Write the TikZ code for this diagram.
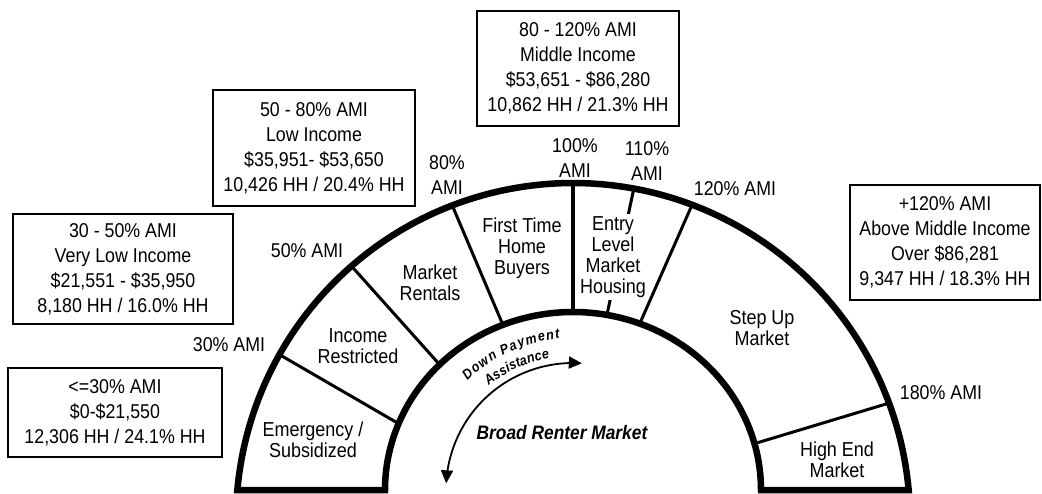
\documentclass[tikz,border=0pt]{standalone}
\usepackage{fontspec}
\setmainfont{Liberation Sans}[FakeStretch=0.89]
\usetikzlibrary{arrows.meta}
\begin{document}
\begin{tikzpicture}[x=1pt,y=-1pt,
  box/.style={draw,line width=1.3pt,inner sep=0pt,align=center,font=\fontsize{20}{25}\selectfont},
  lbl/.style={inner sep=0pt,align=center,font=\fontsize{20}{25}\selectfont},
  reg/.style={inner sep=1pt,align=center,font=\fontsize{20.2}{21}\selectfont},
  ring/.style={line width=6.5pt,line join=miter},
  divider/.style={line width=3pt},
  dpa/.style={inner sep=0pt,anchor=base,font=\fontsize{14}{14}\selectfont\bfseries\itshape},
]
\useasboundingbox (0,0) rectangle (1042,494);

% ring
\draw[ring] plot[domain=174.9:5.1,samples=150] ({573+337*cos(\x)},{520-337*sin(\x)})
  -- plot[domain=0:180,samples=150] ({573+188*cos(\x)},{490-178*sin(\x)}) -- cycle;

% divider end points
\foreach \n/\a/\t in {1/150.6/158.1, 2/131.1/135.2, 3/111.0/111.9, 4/90/90, 5/79.6/79.6, 6/69.3/69.2, 7/20.3/15.1}{
  \coordinate (o\n) at ({573+337*cos(\a)},{520-337*sin(\a)});
  \coordinate (i\n) at ({573+188*cos(\t)},{490-178*sin(\t)});
}
\draw[divider] (o1) -- (i1);
\draw[divider] (o2) -- (i2);
\draw[divider] (o3) -- (i3);
\draw[line width=4.5pt] (o4) -- (i4);
\draw[divider] (o5) -- (i5);
\draw[divider] (o6) -- (i6);
\draw[divider] (o7) -- (i7);

% region labels
\node[reg] (emerg) at (313,440) {Emergency /\\Subsidized};
\node[reg] (incr) at (358,346) {Income\\Restricted};
\node[reg] (mrent) at (430,283) {Market\\Rentals};
\node[reg] (fthb) at (522,248) {First Time\\Home\\Buyers};
\node[reg,fill=white,inner sep=2pt] (entry) at (613,257) {Entry\\Level\\Market\\Housing};
\node[reg] (stepup) at (762,328) {Step Up\\Market};
\node[reg] (highend) at (837,460) {High End\\Market};

% AMI labels
\node[lbl] (a30) at (229,345) {30\% AMI};
\node[lbl] (a50) at (307,251) {50\% AMI};
\node[lbl] (a80) at (447,175.5) {80\%\\AMI};
\node[lbl] (a100) at (575,158) {100\%\\AMI};
\node[lbl] (a110) at (647,161.5) {110\%\\AMI};
\node[lbl] (a120) at (735,189) {120\% AMI};
\node[lbl] (a180) at (941,393) {180\% AMI};

% boxes
\node[box,minimum width=214pt,minimum height=89pt] (bA) at (115,412.5)
  {<=30\% AMI\\\$0-\$21,550\\12,306 HH / 24.1\% HH};
\node[box,minimum width=220pt,minimum height=110pt] (bB) at (123,269)
  {30 - 50\% AMI\\Very Low Income\\\$21,551 - \$35,950\\8,180 HH / 16.0\% HH};
\node[box,minimum width=202pt,minimum height=116pt] (bC) at (314,148)
  {50 - 80\% AMI\\Low Income\\\$35,951- \$53,650\\10,426 HH / 20.4\% HH};
\node[box,minimum width=202pt,minimum height=115pt] (bD) at (578,68.5)
  {80 - 120\% AMI\\Middle Income\\\$53,651 - \$86,280\\10,862 HH / 21.3\% HH};
\node[box,minimum width=190pt,minimum height=115pt] (bE) at (945,242.5)
  {+120\% AMI\\Above Middle Income\\Over \$86,281\\9,347 HH / 18.3\% HH};

% centre
\node[inner sep=0pt,font=\fontsize{19.5}{25}\selectfont\bfseries\itshape] (broad) at (562,433) {Broad Renter Market};
\foreach \ch/\ang [count=\i] in {D/132.3, o/128.7, w/125.0, n/121.2, P/116.0, a/112.6, y/109.5, m/105.6, e/101.7, n/98.5, t/95.8}{
  \node[dpa,rotate=\ang-90] (dp\i) at ({573+152*cos(\ang)},{490-152*sin(\ang)}) {\ch};
}
\foreach \ch/\ang [count=\i] in {A/127.1, s/123.6, s/120.5, i/118.2, s/115.9, t/113.4, a/111.0, n/107.8, c/104.6, e/101.5}{
  \node[dpa,rotate=\ang-90] (as\i) at ({573+134*cos(\ang)},{490-134*sin(\ang)}) {\ch};
}
\draw[line width=1.8pt,{Triangle[length=13pt,width=12pt]}-{Triangle[length=13pt,width=12pt]}]
  plot[smooth,domain=177:86,samples=60] ({573+127*cos(\x)},{490-127*sin(\x)});
\end{tikzpicture}
\end{document}
